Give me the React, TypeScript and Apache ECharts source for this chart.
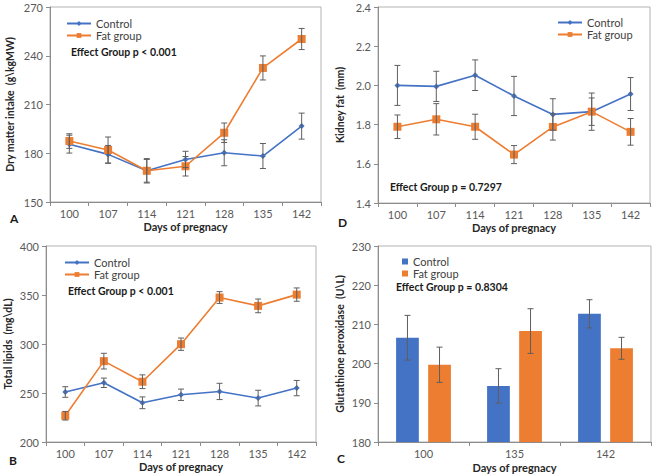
import React, { useEffect, useRef } from "react";
import * as echarts from "echarts";

const days = ["100", "107", "114", "121", "128", "135", "142"];
const barDays = ["100", "135", "142"];

// Panel A: Dry matter intake
const dmiControl = [185.6, 179.3, 169.2, 176.2, 180.3, 178.3, 196.7];
const dmiControlErr = [5.5, 5.5, 7, 5, 8, 7.7, 8];
const dmiFat = [187.5, 182, 169.2, 172, 192.6, 232.5, 250.3];
const dmiFatErr = [4.5, 8, 7.5, 6, 6, 7.4, 6.5];

// Panel D: Kidney fat
const kfControl = [2.0, 1.995, 2.052, 1.946, 1.852, 1.866, 1.956];
const kfControlErr = [0.102, 0.077, 0.078, 0.1, 0.08, 0.07, 0.084];
const kfFat = [1.789, 1.827, 1.789, 1.647, 1.788, 1.866, 1.763];
const kfFatErr = [0.06, 0.08, 0.064, 0.046, 0.067, 0.095, 0.068];

// Panel B: Total lipids
const tlControl = [251, 260.4, 240, 248.2, 251.6, 244.8, 255];
const tlControlErr = [5.4, 4.8, 6, 5.8, 8.3, 8, 7.8];
const tlFat = [226.8, 282.5, 261.5, 299.8, 347.4, 338.9, 350.4];
const tlFatErr = [4.4, 8, 7, 6.3, 6, 7, 6.8];

// Panel C: Glutathione peroxidase
const gpControl = [206.6, 194.3, 212.7];
const gpControlErr = [5.7, 4.4, 3.6];
const gpFat = [199.7, 208.3, 203.9];
const gpFatErr = [4.5, 5.7, 2.8];

const BLUE = "#4472C4";
const ORANGE = "#ED7D31";
const FONT = "Lato, 'Liberation Sans', sans-serif";
const AXIS = "#8c8c8c";
const LABEL = "#595959";

function errData(vals: number[], errs: number[], off: number) {
  return vals.map((v, i) => [i, v - errs[i], v + errs[i], off]);
}

function errorRender(params: any, api: any) {
  const idx = api.value(0);
  const lo = api.value(1);
  const hi = api.value(2);
  const off = api.value(3) * api.size([1, 0])[0];
  const top = api.coord([idx, hi]);
  const bot = api.coord([idx, lo]);
  const x = top[0] + off;
  const cap = 3;
  const style = { stroke: "#5f5f5f", lineWidth: 1 };
  return {
    type: "group",
    children: [
      { type: "line", shape: { x1: x, y1: top[1], x2: x, y2: bot[1] }, style },
      { type: "line", shape: { x1: x - cap, y1: top[1], x2: x + cap, y2: top[1] }, style },
      { type: "line", shape: { x1: x - cap, y1: bot[1], x2: x + cap, y2: bot[1] }, style },
    ],
  };
}

function xAxisFor(grid: number, data: string[], nameGap: number) {
  return {
    type: "category",
    gridIndex: grid,
    data,
    boundaryGap: true,
    name: "Days of pregnacy",
    nameLocation: "middle",
    nameGap,
    nameTextStyle: { fontFamily: FONT, fontWeight: "bold", fontSize: 11, color: "#262626" },
    axisLine: { lineStyle: { color: AXIS } },
    axisTick: { show: true, length: 4, inside: false, lineStyle: { color: AXIS } },
    axisLabel: { fontFamily: FONT, fontSize: 11, color: LABEL, margin: 6 },
    splitLine: { show: false },
  };
}

function yAxisFor(grid: number, min: number, max: number, interval: number, name: string, nameGap: number, fmt?: (v: number) => string) {
  return {
    type: "value",
    gridIndex: grid,
    min,
    max,
    interval,
    name,
    nameLocation: "middle",
    nameGap,
    nameRotate: 90,
    nameTextStyle: { fontFamily: FONT, fontWeight: "bold", fontSize: 10.5, color: "#262626" },
    axisLine: { show: true, lineStyle: { color: AXIS } },
    axisTick: { show: true, length: 4, lineStyle: { color: AXIS } },
    axisLabel: { fontFamily: FONT, fontSize: 11, color: LABEL, margin: 7, formatter: fmt },
    splitLine: { show: false },
  };
}

function lineSeries(name: string, grid: number, data: number[], color: string, symbol: string, size: number) {
  return {
    type: "line",
    name,
    xAxisIndex: grid,
    yAxisIndex: grid,
    data,
    symbol,
    symbolSize: size,
    lineStyle: { color, width: 1.6 },
    itemStyle: { color },
    z: 3,
  };
}

function errSeries(grid: number, data: number[][]) {
  return {
    type: "custom",
    xAxisIndex: grid,
    yAxisIndex: grid,
    data,
    renderItem: errorRender,
    z: 4,
    silent: true,
  };
}

function legendFor(names: string[], left: number, top: number, iw: number, ih: number, gap: number, icon?: string) {
  return {
    data: names.map((n) => (icon ? { name: n, icon } : { name: n })),
    orient: "vertical",
    left,
    top,
    itemWidth: iw,
    itemHeight: ih,
    itemGap: gap,
    padding: 0,
    formatter: (n: string) => n.split("_")[0],
    textStyle: { fontFamily: FONT, fontSize: 11, color: "#404040", lineHeight: 11 },
    selectedMode: false,
  };
}

function label(text: string, x: number, y: number, size = 10.5) {
  return {
    type: "text",
    left: x,
    top: y,
    style: { text, fontFamily: FONT, fontWeight: "bold", fontSize: size, fill: "#1a1a1a" },
  };
}

export default function App() {
  const ref = useRef<HTMLDivElement>(null);
  useEffect(() => {
    if (!ref.current) return;
    const chart = echarts.init(ref.current, undefined, { renderer: "svg" });
    const gridStyle = { show: true, borderColor: "#b3b3b3", borderWidth: 1, backgroundColor: "transparent" };
    chart.setOption({
      animation: false,
      backgroundColor: "#ffffff",
      grid: [
        { left: 50, top: 7, width: 271, height: 195, ...gridStyle },
        { left: 378, top: 7, width: 272, height: 196, ...gridStyle },
        { left: 46, top: 246, width: 270, height: 196, ...gridStyle },
        { left: 378, top: 246, width: 273, height: 197, ...gridStyle },
      ],
      xAxis: [
        xAxisFor(0, days, 19),
        xAxisFor(1, days, 19),
        xAxisFor(2, days, 19),
        xAxisFor(3, barDays, 20),
      ],
      yAxis: [
        yAxisFor(0, 150, 270, 30, "Dry matter intake  (g\\kgMW)", 35),
        yAxisFor(1, 1.4, 2.4, 0.2, "Kidney fat  (mm)", 33, (v: number) => v.toFixed(1)),
        yAxisFor(2, 200, 400, 50, "Total lipids  (mg\\dL)", 33),
        yAxisFor(3, 180, 230, 10, "Glutathione peroxidase  (U\\L)", 33),
      ],
      legend: [
        legendFor(["Control_A", "Fat group_A"], 66, 18, 24, 6, 1),
        legendFor(["Control_D", "Fat group_D"], 557, 17, 24, 6, 1),
        legendFor(["Control_B", "Fat group_B"], 64, 257, 24, 6, 1),
        legendFor(["Control_C", "Fat group_C"], 402, 256, 6, 6, 1, "rect"),
      ],
      graphic: [
        label("Effect Group p < 0.001", 71, 46),
        label("Effect Group p = 0.7297", 390, 181),
        label("Effect Group p < 0.001", 68, 285),
        label("Effect Group p = 0.8304", 396, 281),
        label("A", 10, 212, 12),
        label("D", 338, 216, 12),
        label("B", 9, 454, 12),
        label("C", 337, 452, 12),
      ],
      series: [
        errSeries(0, errData(dmiControl, dmiControlErr, 0)),
        errSeries(0, errData(dmiFat, dmiFatErr, 0)),
        lineSeries("Control_A", 0, dmiControl, BLUE, "diamond", 6),
        lineSeries("Fat group_A", 0, dmiFat, ORANGE, "rect", 8),

        errSeries(1, errData(kfControl, kfControlErr, 0)),
        errSeries(1, errData(kfFat, kfFatErr, 0)),
        lineSeries("Control_D", 1, kfControl, BLUE, "diamond", 6),
        lineSeries("Fat group_D", 1, kfFat, ORANGE, "rect", 8),

        errSeries(2, errData(tlControl, tlControlErr, 0)),
        errSeries(2, errData(tlFat, tlFatErr, 0)),
        lineSeries("Control_B", 2, tlControl, BLUE, "diamond", 6),
        lineSeries("Fat group_B", 2, tlFat, ORANGE, "rect", 8),

        {
          type: "bar",
          name: "Control_C",
          xAxisIndex: 3,
          yAxisIndex: 3,
          data: gpControl,
          barWidth: "25%",
          barGap: "41%",
          itemStyle: { color: BLUE },
        },
        {
          type: "bar",
          name: "Fat group_C",
          xAxisIndex: 3,
          yAxisIndex: 3,
          data: gpFat,
          barWidth: "25%",
          barGap: "41%",
          itemStyle: { color: ORANGE },
        },
        errSeries(3, errData(gpControl, gpControlErr, -0.176)),
        errSeries(3, errData(gpFat, gpFatErr, 0.176)),
      ],
    });
    return () => chart.dispose();
  }, []);
  return (
    <div
      ref={ref}
      style={{ position: "fixed", left: 0, top: 0, width: 653, height: 474, background: "#fff" }}
    />
  );
}
